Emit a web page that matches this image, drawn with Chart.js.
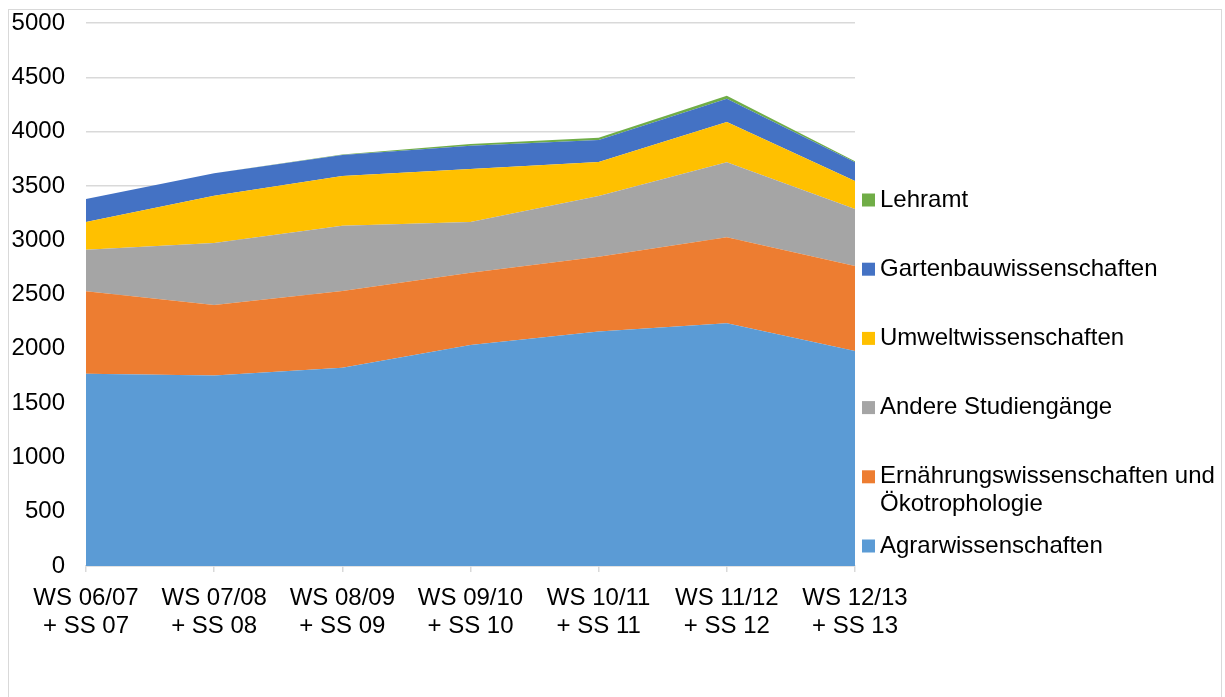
<!DOCTYPE html>
<html>
<head>
<meta charset="utf-8">
<script src="https://cdn.jsdelivr.net/npm/chart.js@4.4.1/dist/chart.umd.min.js"></script>
<style>
  html, body { margin: 0; padding: 0; background: #fff; overflow: hidden; }
  #wrap { position: relative; width: 1225px; height: 697px; }
  #frame { position: absolute; left: 8px; top: 9px; width: 1214px; height: 720px; border: 1px solid #d9d9d9; box-sizing: border-box; }
  canvas { position: absolute; left: 0; top: 0; }
</style>
</head>
<body>
<div id="wrap">
  <div id="frame"></div>
  <canvas id="chart" width="1225" height="697"></canvas>
</div>
<script>
// Semester categories (two-line tick labels)
const semesters = [
  ['WS 06/07', '+ SS 07'],
  ['WS 07/08', '+ SS 08'],
  ['WS 08/09', '+ SS 09'],
  ['WS 09/10', '+ SS 10'],
  ['WS 10/11', '+ SS 11'],
  ['WS 11/12', '+ SS 12'],
  ['WS 12/13', '+ SS 13']
];

// Series values, bottom of the stack first
const agrar = [1770, 1755, 1825, 2035, 2160, 2235, 1980];
const ernaehrung = [760, 648, 707, 666, 688, 792, 782];
const andere = [383, 571, 602, 467, 559, 690, 525];
const umwelt = [255, 436, 457, 488, 313, 371, 258];
const gartenbau = [211, 206, 194, 214, 203, 215, 172];
const lehramt = [0, 0, 5, 16, 21, 28, 9];

const seriesNames = [
  'Agrarwissenschaften',
  'Ernährungswissenschaften und Ökotrophologie',
  'Andere Studiengänge',
  'Umweltwissenschaften',
  'Gartenbauwissenschaften',
  'Lehramt'
];
const seriesValues = [agrar, ernaehrung, andere, umwelt, gartenbau, lehramt];
const seriesColors = ['#5B9BD5', '#ED7D31', '#A5A5A5', '#FFC000', '#4472C4', '#70AD47'];

const yTicks = [0, 500, 1000, 1500, 2000, 2500, 3000, 3500, 4000, 4500, 5000];

const FONT = 'Liberation Sans, Arial, sans-serif';
const FONT_SIZE = 24;

const datasets = seriesNames.map(function (name, i) {
  return {
    label: name,
    data: seriesValues[i],
    backgroundColor: seriesColors[i],
    borderColor: seriesColors[i],
    borderWidth: 0,
    pointRadius: 0,
    pointHoverRadius: 0,
    tension: 0,
    fill: i === 0 ? 'origin' : '-1'
  };
});

// Legend drawn by hand so the long label can wrap onto two lines
const sideLegend = {
  id: 'sideLegend',
  afterDraw(chart) {
    const ctx = chart.ctx;
    const startY = 200;
    const step = 69.2;
    const boxX = 862;
    const textX = 880;
    const box = 13;
    const maxWidth = 340;
    ctx.save();
    ctx.font = FONT_SIZE + 'px ' + FONT;
    ctx.textBaseline = 'middle';
    ctx.textAlign = 'left';
    const order = chart.data.datasets.map((d, i) => i).reverse();
    order.forEach(function (idx, n) {
      const ds = chart.data.datasets[idx];
      const y = startY + n * step;
      ctx.fillStyle = ds.backgroundColor;
      ctx.fillRect(boxX, y - box / 2, box, box);
      // simple word wrap
      const words = ds.label.split(' ');
      const lines = [];
      let line = '';
      words.forEach(function (w) {
        const test = line ? line + ' ' + w : w;
        if (ctx.measureText(test).width > maxWidth && line) {
          lines.push(line);
          line = w;
        } else {
          line = test;
        }
      });
      lines.push(line);
      ctx.fillStyle = '#000';
      lines.forEach(function (l, k) {
        ctx.fillText(l, textX, y + k * 28);
      });
    });
    ctx.restore();
  }
};

new Chart(document.getElementById('chart'), {
  type: 'line',
  data: { labels: semesters, datasets: datasets },
  plugins: [sideLegend],
  options: {
    responsive: false,
    animation: false,
    events: [],
    layout: { padding: { left: 0, top: 23, right: 370, bottom: 0 } },
    plugins: {
      legend: { display: false },
      tooltip: { enabled: false },
      filler: { propagate: false }
    },
    scales: {
      x: {
        offset: false,
        afterFit(scale) { scale.height = 131; },
        grid: {
          drawOnChartArea: false,
          drawTicks: true,
          tickLength: 6,
          color: '#d9d9d9',
          lineWidth: 1.5
        },
        border: { display: true, color: '#d9d9d9', width: 1.5 },
        ticks: {
          color: '#000',
          padding: 12,
          maxRotation: 0,
          autoSkip: false,
          font: { family: FONT, size: FONT_SIZE, lineHeight: 1.17 }
        }
      },
      y: {
        stacked: true,
        min: 0,
        max: 5000,
        afterFit(scale) {
          scale.width = 86;
          scale.paddingTop = 0;
          scale.paddingBottom = 0;
        },
        afterBuildTicks(scale) { scale.ticks = yTicks.map(v => ({ value: v })); },
        grid: {
          drawTicks: false,
          color: '#d9d9d9',
          lineWidth: 1.5
        },
        border: { display: false },
        ticks: {
          color: '#000',
          padding: 21,
          font: { family: FONT, size: FONT_SIZE },
          callback: function (value) { return String(value); }
        }
      }
    }
  }
});
</script>
</body>
</html>
